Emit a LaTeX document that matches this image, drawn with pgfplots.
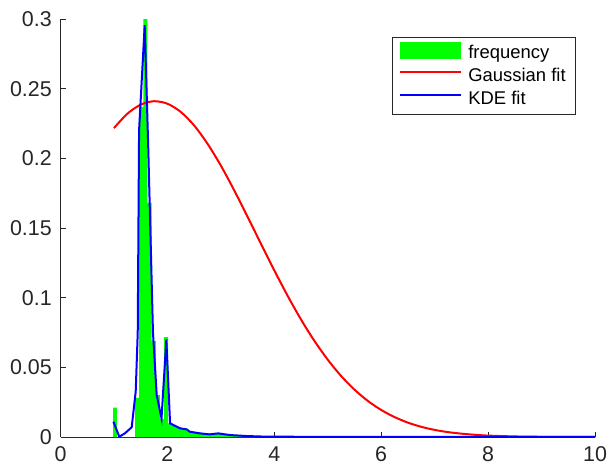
\documentclass[border=0pt]{standalone}
\usepackage{pgfplots}
\pgfplotsset{compat=1.18}
\usepackage{fontspec}
\setmainfont{Liberation Sans}
\definecolor{axgray}{RGB}{38,38,38}
\definecolor{mgreen}{RGB}{0,255,0}
\begin{document}
\begin{tikzpicture}
\begin{axis}[
  scale only axis, width=267.25bp, height=209bp,
  xmin=0, xmax=10, ymin=0, ymax=0.3,
  axis x line*=bottom, axis y line*=left,
  axis line style={draw=axgray, line width=0.4bp, -},
  tick align=inside, major tick length=2.5bp,
  tick style={draw=axgray, line width=0.4bp},
  xtick={0,2,4,6,8,10},
  ytick={0,0.05,0.1,0.15,0.2,0.25,0.3},
  scaled y ticks=false,
  yticklabel style={/pgf/number format/fixed, /pgf/number format/precision=2, inner xsep=0pt, xshift=-4.2bp},
  xticklabel style={inner ysep=0pt, yshift=-4.5bp},
  /pgf/number format/assume math mode=true,
  ticklabel style={font=\fontsize{10.75}{12}\selectfont, text=axgray},
  clip=false,
  legend cell align=left,
  legend style={at={(0.9635,0.9569)}, anchor=north east, draw=axgray, line width=0.4bp, fill=white,
    font=\fontsize{9.25}{11}\selectfont, inner xsep=3.2bp, inner ysep=2.2bp, row sep=0.4bp,
    nodes={inner xsep=1.5bp, inner ysep=1.5bp},
    /tikz/every odd column/.append style={column sep=1.8bp}},
]
\addplot[ybar interval, fill=mgreen, draw=none,
  legend image code/.code={\fill[mgreen] (0bp,-3.2bp) rectangle (30.5bp,5.3bp);}]
  table {
0.985 0.021
1.055 0
1.395 0.028
1.4725 0.237
1.55 0.300
1.6275 0.168
1.705 0.069
1.7825 0.030
1.86 0.013
1.9375 0.0716
2.015 0.0098
2.0925 0.0082
2.17 0.007
2.2475 0.006
2.325 0.005
2.4025 0.004
2.48 0.0033
2.5575 0.0028
2.635 0.0023
2.7125 0.002
2.79 0.0019
2.8675 0.002
2.945 0.0022
3.0225 0.0018
3.1 0.0014
3.1775 0.0012
3.255 0.001
3.3325 0.0008
3.41 0.0006
3.4875 0.0004
3.565 0.0003
3.6425 0
};
\addlegendentry{frequency}
\addplot[red, line width=1bp, smooth,
  legend image code/.code={\draw[red, line width=1bp] (0bp,2.0bp) -- (30.5bp,2.0bp);}]
  table {
1.0 0.2217
1.25 0.2320
1.5 0.2385
1.75 0.2410
2.0 0.2392
2.25 0.2333
2.5 0.2236
2.75 0.2105
3.0 0.1948
3.25 0.1770
3.5 0.1581
3.75 0.1387
4.0 0.1196
4.25 0.1013
4.5 0.0843
4.75 0.0690
5.0 0.0555
5.25 0.0438
5.5 0.0340
5.75 0.0259
6.0 0.0194
6.25 0.0143
6.5 0.0103
6.75 0.0073
7.0 0.0051
7.25 0.0035
7.5 0.0024
7.75 0.0016
8.0 0.0010
8.5 0.0004
9.0 0.00015
9.5 0.00005
10.0 0.00001
};
\addlegendentry{Gaussian fit}
\addplot[blue, line width=1bp,
  legend image code/.code={\draw[blue, line width=1bp] (0bp,2.0bp) -- (30.5bp,2.0bp);}]
  table {
0.99 0.011
1.10 0.0002
1.207 0.0027
1.332 0.007
1.407 0.0325
1.445 0.075
1.47 0.22
1.575 0.2955
1.64 0.21
1.73 0.075
1.80 0.030
1.89 0.0134
1.98 0.070
2.05 0.0098
2.174 0.0074
2.236 0.0062
2.361 0.0055
2.42 0.0038
2.61 0.0026
2.79 0.0019
2.95 0.0026
3.17 0.0014
3.48 0.0007
3.8 0.0003
4.2 0.0002
5.0 0.0001
6.0 0.00005
7.0 0.00003
10.0 0
};
\addlegendentry{KDE fit}
\end{axis}
\pgfresetboundingbox
\path[use as bounding box] (-30.25bp,-15bp) rectangle (274.25bp,218.5bp);
\end{tikzpicture}
\end{document}
